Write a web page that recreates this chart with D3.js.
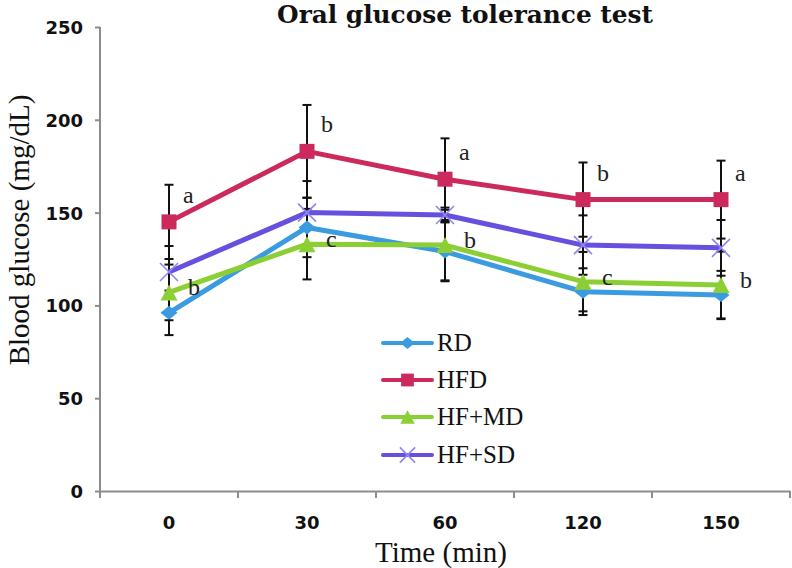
<!DOCTYPE html>
<html>
<head>
<meta charset="utf-8">
<script src="https://cdn.jsdelivr.net/npm/d3@7/dist/d3.min.js"></script>
<style>
  html, body { margin: 0; padding: 0; background: #fff; }
  svg { display: block; }
</style>
</head>
<body>
<svg id="chart" width="792" height="568"></svg>
<script>
// ---------- data ----------
const categories = ["0", "30", "60", "120", "150"];
const seriesNames = ["RD", "HFD", "HF+MD", "HF+SD"];
const rdMeans   = [96, 142, 129, 107.4, 105.6];
const rdErr     = [12, 16, 16, 12.6, 13];
const hfdMeans  = [145, 183, 168, 157, 157];
const hfdErr    = [20, 25, 22, 20, 21];
const hfmdMeans = [107, 133, 132.5, 112.8, 111];
const hfmdErr   = [15, 19, 19, 16, 18];
const hfsdMeans = [118, 150, 148.7, 132.5, 131];
const hfsdErr   = [14, 17, 4, 16, 15];
const yTicks = [0, 50, 100, 150, 200, 250];
const upperLetters = ["a", "b", "a", "b", "a"];
const lowerLetters = ["b", "c", "b", "c", "b"];
const titleText = "Oral glucose tolerance test";
const xTitle = "Time (min)";
const yTitle = "Blood glucose (mg/dL)";

// ---------- setup ----------
const svg = d3.select("#chart");
const pL = 100, pR = 790, pT = 27, pB = 491;
const x = d3.scaleBand().domain(categories).range([pL, pR]);
const y = d3.scaleLinear().domain([0, 250]).range([pB, pT]);
const cx = c => x(c) + x.bandwidth() / 2;

const series = [
  { name: seriesNames[0], means: rdMeans,   err: rdErr,   color: "#3b9be0", marker: "diamond" },
  { name: seriesNames[1], means: hfdMeans,  err: hfdErr,  color: "#cc2a5c", marker: "square" },
  { name: seriesNames[2], means: hfmdMeans, err: hfmdErr, color: "#8ccf34", marker: "triangle" },
  { name: seriesNames[3], means: hfsdMeans, err: hfsdErr, color: "#6650e0", marker: "x" }
];

const axisColor = "#8c8c8c";
const serif = "'Liberation Serif', 'Times New Roman', serif";
const tickFont = "'DejaVu Sans', sans-serif";

// ---------- axes ----------
const yAxis = svg.append("g")
  .attr("transform", `translate(${pL},0)`)
  .call(d3.axisLeft(y).tickValues(yTicks).tickSize(5).tickSizeOuter(0).tickPadding(12));
yAxis.select(".domain").remove();
yAxis.selectAll(".tick line").attr("stroke", axisColor).attr("stroke-width", 2);
yAxis.selectAll(".tick text")
  .attr("font-family", tickFont)
  .attr("font-weight", "bold")
  .attr("font-size", 18)
  .attr("fill", "#111")
  .attr("dy", "0.36em");

svg.append("line")
  .attr("x1", pL).attr("x2", pL)
  .attr("y1", y(250)).attr("y2", pB + 7)
  .attr("stroke", axisColor).attr("stroke-width", 2);

const xAxis = svg.append("g")
  .attr("transform", `translate(0,${pB})`)
  .call(d3.axisBottom(x).tickSize(0).tickSizeOuter(0).tickPadding(25));
xAxis.select(".domain").attr("stroke", axisColor).attr("stroke-width", 2);
xAxis.selectAll(".tick text")
  .attr("font-family", tickFont)
  .attr("font-weight", "bold")
  .attr("font-size", 18)
  .attr("fill", "#111");

const boundaries = categories.map(c => x(c)).concat([x(categories[categories.length - 1]) + x.bandwidth()]);
svg.append("g").selectAll("line").data(boundaries.slice(1)).join("line")
  .attr("x1", d => d).attr("x2", d => d)
  .attr("y1", pB).attr("y2", pB + 7)
  .attr("stroke", axisColor).attr("stroke-width", 2);

// ---------- titles ----------
const title = svg.append("text")
  .attr("x", 465).attr("y", 23)
  .attr("text-anchor", "middle")
  .attr("font-family", "'DejaVu Serif', serif")
  .attr("font-weight", "bold")
  .attr("font-size", 24)
  .attr("fill", "#111")
  .text(titleText);
const tw = title.node().getComputedTextLength();
if (tw > 0) title.attr("font-size", 24 * 376 / tw);

svg.append("text")
  .attr("x", 441).attr("y", 562)
  .attr("text-anchor", "middle")
  .attr("font-family", serif)
  .attr("font-size", 29)
  .attr("fill", "#111")
  .text(xTitle);

svg.append("text")
  .attr("transform", "translate(29,230) rotate(-90)")
  .attr("text-anchor", "middle")
  .attr("font-family", serif)
  .attr("font-size", 29)
  .attr("fill", "#111")
  .text(yTitle);

// ---------- markers ----------
function markerPath(type, s) {
  const p = d3.path();
  if (type === "square") {
    const h = 7.5 * s; p.rect(-h, -h, 2 * h, 2 * h);
  } else if (type === "diamond") {
    const w = 8.5 * s, h = 7 * s;
    p.moveTo(0, -h); p.lineTo(w, 0); p.lineTo(0, h); p.lineTo(-w, 0); p.closePath();
  } else if (type === "triangle") {
    const w = 8.5 * s, h = 8 * s;
    p.moveTo(0, -h); p.lineTo(w, h); p.lineTo(-w, h); p.closePath();
  } else if (type === "x") {
    const h = 9 * s;
    p.moveTo(-h, -h); p.lineTo(h, h); p.moveTo(h, -h); p.lineTo(-h, h);
  }
  return p.toString();
}
function drawMarker(g, type, color, s) {
  if (type === "x") {
    g.append("path").attr("d", markerPath(type, s))
      .attr("fill", "none").attr("stroke", "#8f86f0").attr("stroke-width", 1.6);
  } else {
    g.append("path").attr("d", markerPath(type, s)).attr("fill", color);
  }
}

// ---------- error bars ----------
const eb = svg.append("g").attr("stroke", "#111").attr("stroke-width", 2);
series.forEach(s => {
  categories.forEach((c, i) => {
    const hi = y(s.means[i] + s.err[i]), lo = y(s.means[i] - s.err[i]), xx = cx(c);
    eb.append("line").attr("x1", xx).attr("x2", xx).attr("y1", hi).attr("y2", lo);
    eb.append("line").attr("x1", xx - 4.5).attr("x2", xx + 4.5).attr("y1", hi).attr("y2", hi);
    eb.append("line").attr("x1", xx - 4.5).attr("x2", xx + 4.5).attr("y1", lo).attr("y2", lo);
  });
});

// ---------- lines + markers ----------
const line = d3.line().x((d, i) => cx(categories[i])).y(d => y(d));
series.forEach(s => {
  svg.append("path").datum(s.means)
    .attr("d", line)
    .attr("fill", "none")
    .attr("stroke", s.color)
    .attr("stroke-width", 5)
    .attr("stroke-linejoin", "round");
  s.means.forEach((v, i) => {
    const g = svg.append("g").attr("transform", `translate(${cx(categories[i])},${y(v)})`);
    drawMarker(g, s.marker, s.color, 1);
  });
});

// ---------- significance letters ----------
categories.forEach((c, i) => {
  svg.append("text")
    .attr("x", cx(c) + 14).attr("y", y(hfdMeans[i]) - 19)
    .attr("font-family", serif).attr("font-size", 24)
    .attr("fill", "#222").text(upperLetters[i]);
  svg.append("text")
    .attr("x", cx(c) + 19).attr("y", y(hfmdMeans[i]) + 3)
    .attr("font-family", serif).attr("font-size", 24)
    .attr("fill", "#222").text(lowerLetters[i]);
});

// ---------- legend ----------
const legendY = [343, 380, 417, 455];
series.forEach((s, i) => {
  const g = svg.append("g").attr("transform", `translate(383,${legendY[i]})`);
  g.append("line").attr("x1", 0).attr("x2", 49).attr("y1", 0).attr("y2", 0)
    .attr("stroke", s.color).attr("stroke-width", 4).attr("stroke-linecap", "round");
  const m = g.append("g").attr("transform", "translate(24.5,0)");
  drawMarker(m, s.marker, s.color, 0.85);
  g.append("text").attr("x", 54).attr("y", 8)
    .attr("font-family", serif).attr("font-size", 25).attr("fill", "#111")
    .text(s.name);
});
</script>
</body>
</html>
